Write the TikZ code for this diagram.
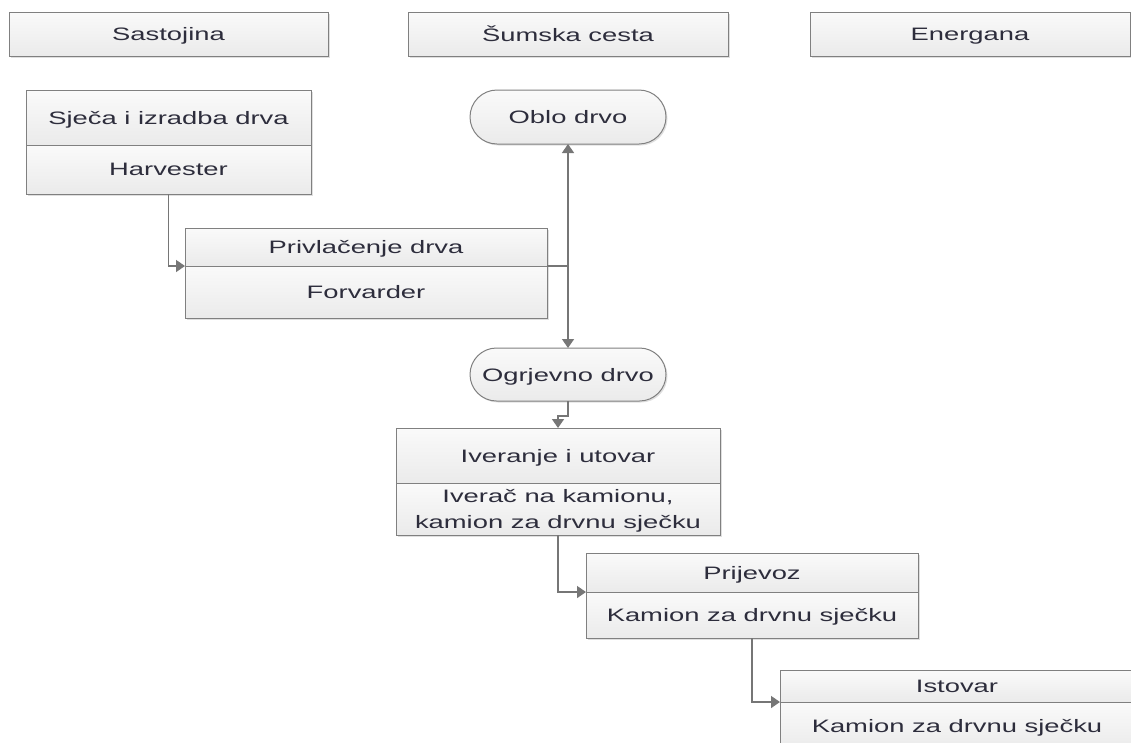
\documentclass[tikz,border=0pt]{standalone}
\usepackage{fontspec}
\setmainfont{Liberation Sans}[FakeStretch=1.52]
\usetikzlibrary{positioning,arrows.meta,shapes.misc,shadows}
\definecolor{txt}{RGB}{45,45,60}
\definecolor{boxline}{RGB}{128,128,128}
\definecolor{arrgray}{RGB}{118,118,118}

\begin{document}
\begin{tikzpicture}[x=1pt, y=-1pt, node distance=0pt, every node/.style={font=\fontsize{18}{26}\selectfont, text=txt, text depth=0pt}, box/.style={draw=boxline, line width=1pt, top color=black!2, bottom color=black!8, outer sep=0pt, align=center, inner sep=2pt, drop shadow={shadow xshift=1.5pt, shadow yshift=-1.5pt, opacity=0.25, fill=black!50}}, term/.style={box, rounded rectangle, minimum width=200pt, minimum height=54pt}, arr/.style={draw=arrgray, line width=1.5pt, -{Triangle[length=9pt,width=12pt]}}]
\useasboundingbox (0,0) rectangle (1131,742);
\clip (0,0) rectangle (1131,742);
% lanes
\node[box, minimum width=319pt, minimum height=44pt] (sastojina) at (168.5,34) {Sastojina};
\node[box, minimum width=320pt, minimum height=44pt] (cesta) at (568,34) {Šumska cesta};
\node[box, minimum width=320pt, minimum height=44pt] (energana) at (970,34) {Energana};
% steps
\node[box, minimum width=285pt, minimum height=55pt] (sjeca) at (168.5,117.5) {Sječa i izradba drva};
\node[box, minimum width=285pt, minimum height=49pt, below=of sjeca] (harvester) {Harvester};
\node[box, minimum width=362pt, minimum height=38pt] (privlacenje) at (366,247) {Privlačenje drva};
\node[box, minimum width=362pt, minimum height=52pt, below=of privlacenje] (forvarder) {Forvarder};
\node[term] (oblo) at (568,117) {Oblo drvo};
\node[term, minimum height=53pt] (ogrjevno) at (568,374.5) {Ogrjevno drvo};
\node[box, minimum width=324pt, minimum height=55pt] (iveranje) at (558,455.5) {Iveranje i utovar};
\node[box, minimum width=324pt, minimum height=52pt, below=of iveranje] (iverac) {Iverač na kamionu,\\kamion za drvnu sječku};
\node[box, minimum width=332pt, minimum height=39pt] (prijevoz) at (752,572.5) {Prijevoz};
\node[box, minimum width=332pt, minimum height=46pt, below=of prijevoz] (kamion) {Kamion za drvnu sječku};
\node[box, minimum width=354pt, minimum height=32pt] (istovar) at (957,686) {Istovar};
\node[box, minimum width=354pt, minimum height=48pt, below=of istovar] (kamionIst) {Kamion za drvnu sječku};
% flow
\draw[arr] (harvester.south) |- (privlacenje.south west);
\draw[arr] (privlacenje.south east) -| (oblo.south);
\draw[arr] (privlacenje.south east) -| (ogrjevno.north);
\draw[arr] (ogrjevno.south) -- ++(0,15) -| (iveranje.north);
\draw[arr] (iverac.south) |- (prijevoz.south west);
\draw[arr] (kamion.south) |- (istovar.south west);
\end{tikzpicture}
\end{document}
